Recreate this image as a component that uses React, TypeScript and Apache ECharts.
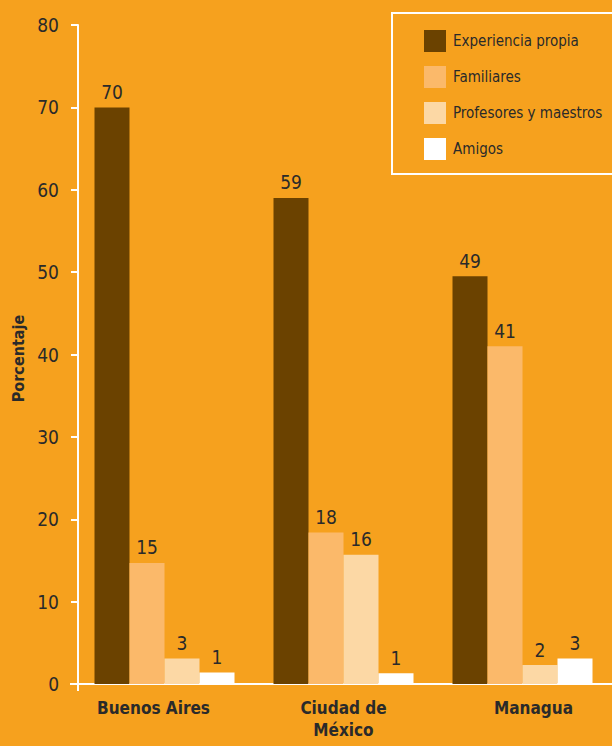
import React, { useEffect, useRef } from "react";
import * as echarts from "echarts";

const categories = ["Buenos Aires", "Ciudad de\nMéxico", "Managua"];
const seriesNames = ["Experiencia propia", "Familiares", "Profesores y maestros", "Amigos"];
const experiencia = [70, 59, 49.5];
const familiares = [14.7, 18.4, 41];
const profesores = [3.1, 15.7, 2.3];
const amigos = [1.4, 1.3, 3.1];
const experienciaLabels = ["70", "59", "49"];
const familiaresLabels = ["15", "18", "41"];
const profesoresLabels = ["3", "16", "2"];
const amigosLabels = ["1", "1", "3"];
const yTicks = [0, 10, 20, 30, 40, 50, 60, 70, 80];

const colors = ["#6B4200", "#FBB96A", "#FCD8A5", "#FFFFFF"];
const BG = "#F6A11E";
const FONT = "'Liberation Sans Narrow', 'DejaVu Sans Condensed', 'Noto Sans', sans-serif";

export default function App() {
  const ref = useRef<HTMLDivElement>(null);
  useEffect(() => {
    document.body.style.margin = "0";
    const chart = echarts.init(ref.current!, null, { renderer: "svg" });
    const data = [experiencia, familiares, profesores, amigos];
    const labels = [experienciaLabels, familiaresLabels, profesoresLabels, amigosLabels];
    const labelShift = ["l", "c", "r"];
    const xl = { fontFamily: FONT, fontSize: 17, fontWeight: "bold", color: "#2a2a2a", lineHeight: 22 };
    chart.setOption({
      animation: false,
      backgroundColor: BG,
      textStyle: { fontFamily: FONT },
      grid: { left: 75, top: 25, bottom: 62, width: 540 },
      legend: {
        orient: "vertical",
        left: 419,
        top: 25,
        itemWidth: 22,
        itemHeight: 22,
        itemGap: 14,
        icon: "rect",
        data: seriesNames,
        textStyle: { fontFamily: FONT, fontSize: 15, color: "#2a2a2a", padding: [0, 0, 0, 2] },
      },
      xAxis: {
        type: "category",
        data: categories,
        axisLine: { show: true, lineStyle: { color: "#FFFFFF", width: 2 } },
        axisTick: { show: false },
        axisLabel: {
          ...xl,
          interval: 0,
          hideOverlap: false,
          margin: 13,
          formatter: (v: string, idx: number) =>
            v
              .split("\n")
              .map((line) => `{${labelShift[idx]}|${line}}`)
              .join("\n"),
          rich: {
            l: { ...xl, padding: [0, 22, 0, 0] },
            c: { ...xl },
            r: { ...xl, padding: [0, 0, 0, 22] },
          },
        },
      },
      yAxis: {
        type: "value",
        min: yTicks[0],
        max: yTicks[yTicks.length - 1],
        interval: 10,
        offset: -3,
        name: "Porcentaje",
        nameLocation: "middle",
        nameGap: 50,
        nameTextStyle: { fontFamily: FONT, fontSize: 16, fontWeight: "bold", color: "#2a2a2a", padding: [0, 0, 0, -8] },
        axisLine: { show: true, lineStyle: { color: "#FFFFFF", width: 2 } },
        axisTick: { show: true, length: 7, lineStyle: { color: "#FFFFFF", width: 2 } },
        splitLine: { show: false },
        axisLabel: { fontFamily: FONT, fontSize: 19, color: "#2a2a2a", margin: 19 },
      },
      graphic: [
        {
          type: "rect",
          shape: { x: 392, y: 13, width: 240, height: 161 },
          style: { fill: "none", stroke: "#FFFFFF", lineWidth: 2 },
          z: 10,
        },
        {
          type: "line",
          shape: { x1: 70, y1: 684, x2: 78, y2: 684 },
          style: { stroke: "#FFFFFF", lineWidth: 2 },
        },
        {
          type: "line",
          shape: { x1: 78, y1: 684, x2: 78, y2: 691 },
          style: { stroke: "#FFFFFF", lineWidth: 2 },
        },
      ],
      series: seriesNames.map((name, i) => ({
        name,
        type: "bar",
        data: data[i],
        barWidth: 35,
        barGap: "0%",
        barCategoryGap: "22%",
        itemStyle: { color: colors[i] },
        label: {
          show: true,
          position: "top",
          distance: 6,
          fontFamily: FONT,
          fontSize: 19,
          color: "#2a2a2a",
          formatter: (p: any) => labels[i][p.dataIndex],
        },
      })),
    });
    return () => chart.dispose();
  }, []);
  return <div ref={ref} style={{ width: 612, height: 746 }} />;
}
